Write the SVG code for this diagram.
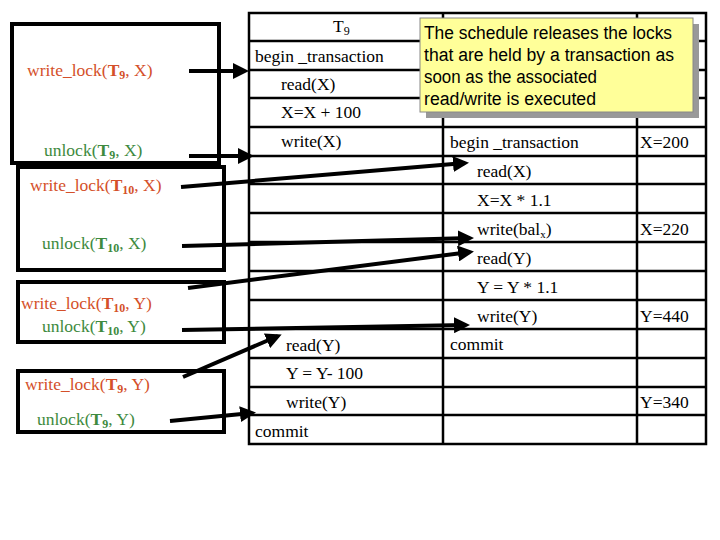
<svg xmlns="http://www.w3.org/2000/svg" width="720" height="540" viewBox="0 0 720 540">
<defs>
<style>
text{font-family:"Liberation Serif","Times New Roman",serif;font-size:17.5px;fill:#000}
.wl{fill:#d4502a}.ul{fill:#3e8a3e}
.box{fill:none;stroke:#000;stroke-width:4}
.grid{stroke:#000;stroke-width:2.5;fill:none}
.arr{stroke:#000;stroke-width:4;fill:none;marker-end:url(#ah)}
.note{font-family:"Liberation Sans",Arial,sans-serif;font-size:18px}
</style>
<marker id="ah" markerWidth="4" markerHeight="4" refX="3" refY="2" orient="auto"><path d="M0,0 L4,2 L0,4 Z" fill="#000"/></marker>
</defs>
<rect width="720" height="540" fill="#fff"/>
<g id="table">
<rect class="grid" x="249" y="13" width="457" height="431"/>
<path class="grid" d="M443,13V444M637,13V444M249,41H706M249,70H706M249,98H706M249,127H706M249,156H706M249,184H706M249,213H706M249,242H706M249,271H706M249,300H706M249,329H706M249,358H706M249,387H706M249,415H706"/>
<text x="333" y="32">T<tspan font-size="12" dy="3">9</tspan></text>
<text x="255" y="62">begin _transaction</text>
<text x="281" y="90">read(X)</text>
<text x="281" y="118">X=X + 100</text>
<text x="281" y="147">write(X)</text>
<text x="286" y="351">read(Y)</text>
<text x="286" y="379">Y = Y- 100</text>
<text x="286" y="408">write(Y)</text>
<text x="255" y="437">commit</text>
<text x="450" y="148">begin _transaction</text>
<text x="477" y="177">read(X)</text>
<text x="477" y="206">X=X * 1.1</text>
<text x="477" y="235">write(bal<tspan font-size="11" dy="3">x</tspan><tspan dy="-3">)</tspan></text>
<text x="477" y="264">read(Y)</text>
<text x="477" y="293">Y = Y * 1.1</text>
<text x="477" y="322">write(Y)</text>
<text x="450" y="350">commit</text>
<text x="640" y="148">X=200</text>
<text x="640" y="235">X=220</text>
<text x="640" y="322">Y=440</text>
<text x="640" y="408">Y=340</text>
</g>
<g id="note">
<rect x="426" y="24" width="273" height="94" fill="#999"/>
<rect x="420" y="18" width="273" height="94" fill="#ffff99" stroke="#888" stroke-width="1"/>
<text class="note" x="424" y="39" textLength="248" lengthAdjust="spacingAndGlyphs">The schedule releases the locks</text>
<text class="note" x="424" y="61" textLength="250" lengthAdjust="spacingAndGlyphs">that are held by a transaction as</text>
<text class="note" x="424" y="83" textLength="173" lengthAdjust="spacingAndGlyphs">soon as the associated</text>
<text class="note" x="424" y="105" textLength="172" lengthAdjust="spacingAndGlyphs">read/write is executed</text>
</g>
<g id="lockbox1">
<rect class="box" x="12" y="24" width="207" height="139"/>
<text class="wl" x="27" y="76">write_lock(<tspan font-weight="bold">T<tspan font-size="12" dy="3">9</tspan></tspan><tspan dy="-3">, X)</tspan></text>
<text class="ul" x="44" y="156">unlock(<tspan font-weight="bold">T<tspan font-size="12" dy="3">9</tspan></tspan><tspan dy="-3">, X)</tspan></text>
</g>
<g id="lockbox2">
<rect class="box" x="18" y="167" width="206" height="103"/>
<text class="wl" x="30" y="191">write_lock(<tspan font-weight="bold">T<tspan font-size="12" dy="3">10</tspan></tspan><tspan dy="-3">, X)</tspan></text>
<text class="ul" x="42" y="249">unlock(<tspan font-weight="bold">T<tspan font-size="12" dy="3">10</tspan></tspan><tspan dy="-3">, X)</tspan></text>
</g>
<g id="lockbox3">
<rect class="box" x="18" y="282" width="206" height="60"/>
<text class="wl" x="21" y="309">write_lock(<tspan font-weight="bold">T<tspan font-size="12" dy="3">10</tspan></tspan><tspan dy="-3">, Y)</tspan></text>
<text class="ul" x="42" y="332">unlock(<tspan font-weight="bold">T<tspan font-size="12" dy="3">10</tspan></tspan><tspan dy="-3">, Y)</tspan></text>
</g>
<g id="lockbox4">
<rect class="box" x="18" y="371" width="206" height="61"/>
<text class="wl" x="25" y="390">write_lock(<tspan font-weight="bold">T<tspan font-size="12" dy="3">9</tspan></tspan><tspan dy="-3">, Y)</tspan></text>
<text class="ul" x="37" y="425">unlock(<tspan font-weight="bold">T<tspan font-size="12" dy="3">9</tspan></tspan><tspan dy="-3">, Y)</tspan></text>
</g>
<g id="connectors">
<path class="arr" d="M189,71 L245,71"/>
<path class="arr" d="M189,156 L250,156"/>
<path class="arr" d="M181,187 L465,163"/>
<path class="arr" d="M182,246 L470,238"/>
<path class="arr" d="M188,288 L470,252"/>
<path class="arr" d="M182,330 L466,325"/>
<path class="arr" d="M183,377 L278,336"/>
<path class="arr" d="M170,421 L252,413"/>
</g>
</svg>
